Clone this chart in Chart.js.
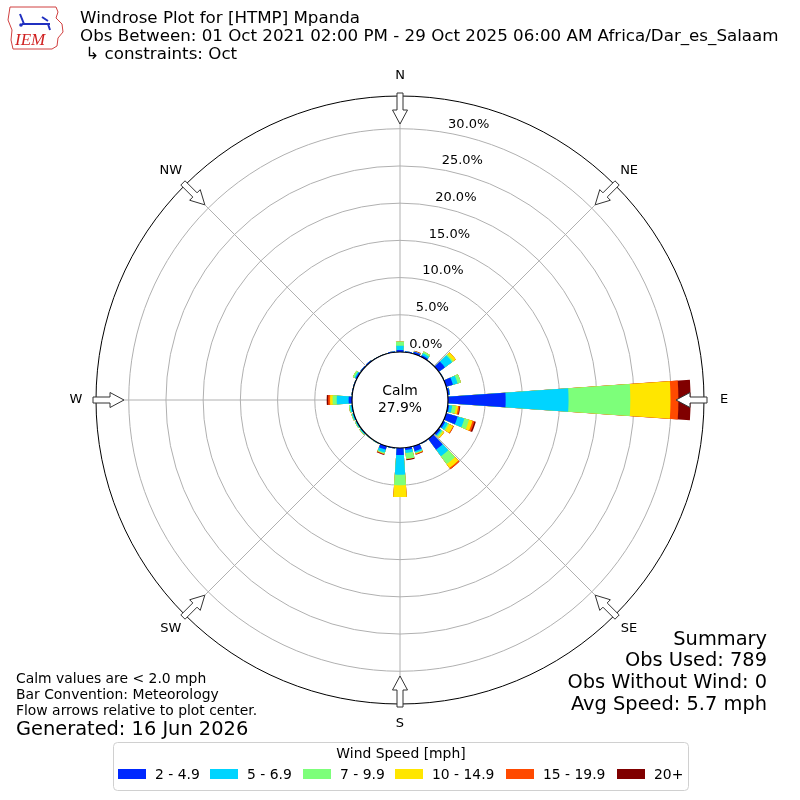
<!DOCTYPE html>
<html>
<head>
<meta charset="utf-8">
<script src="https://cdn.jsdelivr.net/npm/chart.js@4.4.0/dist/chart.umd.min.js"></script>
<style>
  body{margin:0;background:#fff;}
  canvas{display:block;}
</style>
</head>
<body>
<canvas id="rose" width="800" height="800"></canvas>
<script>
// direction bins (deg, meteorological) and % frequency per speed class
var directions = [0,10,20,30,40,50,60,70,80,90,100,110,120,130,140,150,160,170,
                  180,190,200,210,220,230,240,250,260,270,280,290,300,310,320,330,340,350];
var speedLabels = ['2 - 4.9','5 - 6.9','7 - 9.9','10 - 14.9','15 - 19.9','20+'];
var speed1 = [0.27,0.15,0.3,0.25,0.05,1.0,0.1,0.95,0.25,7.75,0.2,1.6,0.3,0.3,1.8,0.1,0.7,0.3,
              0.95,0.1,0.5,0.05,0.05,0.1,0.1,0.1,0.1,0.45,0.1,0.1,0.2,0.15,0.15,0.05,0.05,0.15];
var speed2 = [0.58,0,0.02,0.3,0,1.2,0,0.65,0.05,8.45,0.4,0.95,0.4,0.2,1.1,0,0.2,0.4,
              2.65,0,0.4,0.05,0.05,0.1,0.1,0.15,0.2,1.6,0,0,0.15,0,0,0,0,0];
var speed3 = [0.55,0,0.02,0.25,0,0.2,0,0.46,0,8.3,0.5,0.65,0.2,0.2,1.3,0,0.1,0.8,
              1.4,0,0.15,0,0,0.1,0.1,0.1,0.15,0.55,0,0,0.25,0,0,0,0,0];
var speed4 = [0,0,0.02,0,0,0.4,0,0,0,5.4,0.3,0.5,0.6,0.2,0.65,0,0.05,0,
              1.6,0,0,0,0,0,0,0,0,0.35,0,0,0,0,0,0,0,0];
var speed5 = [0,0,0.04,0,0,0,0,0,0,1.06,0.2,0.25,0.1,0,0.2,0,0.1,0.05,
              0,0,0.1,0,0,0,0,0,0,0.25,0,0,0,0,0,0,0,0];
var speed6 = [0,0,0.05,0,0,0,0,0,0,1.64,0.1,0.2,0,0,0,0,0.05,0.15,
              0,0,0.1,0,0,0,0,0,0,0.2,0,0,0,0,0,0,0,0];
var rTicks = [0,5,10,15,20,25,30];
var compass = ['N','NE','E','SE','S','SW','W','NW'];
var calmPct = 27.9;

var speedColors = ['#0028ff','#00d4ff','#7dff7a','#ffe600','#ff4a00','#800000'];
var FONT = '"DejaVu Sans", sans-serif';

// build stacked (cumulative) datasets, one gap slot after each bar
var bins = [speed1, speed2, speed3, speed4, speed5, speed6];
var labels = [];
for (var i = 0; i < directions.length; i++){
  labels.push(directions[i] + '°');
  labels.push('');
}
var datasets = [];
var running = directions.map(function(){ return 0; });
for (var k = 0; k < bins.length; k++){
  var d = [];
  for (var i = 0; i < directions.length; i++){
    running[i] += bins[k][i];
    d.push(+running[i].toFixed(3));
    d.push(0);
  }
  datasets.push({
    label: speedLabels[k],
    data: d,
    backgroundColor: speedColors[k],
    borderWidth: 0,
    angle: function(c){ return c.dataIndex % 2 ? 2 : 8; }
  });
}

function arrow(ctx, cx, cy, deg, rOut){
  var a = deg * Math.PI / 180;
  var ux = Math.sin(a), uy = -Math.cos(a);
  var nx = Math.cos(a), ny = Math.sin(a);
  var pts = [[0,-3],[17,-3],[17,-7.5],[31,0],[17,7.5],[17,3],[0,3]];
  ctx.beginPath();
  pts.forEach(function(p, j){
    var r = rOut - p[0];
    var x = cx + ux*r + nx*p[1], y = cy + uy*r + ny*p[1];
    if (j == 0) ctx.moveTo(x, y); else ctx.lineTo(x, y);
  });
  ctx.closePath();
  ctx.fillStyle = '#fff';
  ctx.fill();
  ctx.strokeStyle = '#333';
  ctx.lineWidth = 1;
  ctx.stroke();
}

function drawLogo(ctx){
  ctx.save();
  ctx.strokeStyle = '#d04040';
  ctx.lineWidth = 1;
  ctx.beginPath();
  ctx.moveTo(10,7); ctx.lineTo(56,7); ctx.lineTo(58,12); ctx.lineTo(56,18);
  ctx.lineTo(62,24); ctx.lineTo(63,32); ctx.lineTo(58,38); ctx.lineTo(57,46);
  ctx.lineTo(52,49); ctx.lineTo(13,49); ctx.lineTo(11,40); ctx.lineTo(12,30);
  ctx.lineTo(8,20); ctx.closePath();
  ctx.stroke();
  ctx.strokeStyle = '#2030c0';
  ctx.lineWidth = 2;
  ctx.beginPath();
  ctx.moveTo(22,24); ctx.lineTo(50,24);
  ctx.moveTo(20,14); ctx.lineTo(24,24);
  ctx.moveTo(42,17); ctx.lineTo(48,21);
  ctx.moveTo(48,24); ctx.lineTo(50,30);
  ctx.stroke();
  ctx.fillStyle = '#2030c0';
  ctx.beginPath(); ctx.arc(21,25,1.8,0,2*Math.PI); ctx.fill();
  ctx.fillStyle = '#d02020';
  ctx.font = 'italic 17px "Liberation Serif", serif';
  ctx.textAlign = 'left';
  ctx.textBaseline = 'alphabetic';
  ctx.fillText('IEM', 15, 45);
  ctx.restore();
}

var rosePlugin = {
  id: 'rose',
  beforeDatasetsDraw: function(chart){
    var s = chart.scales.r, ctx = chart.ctx;
    ctx.save();
    ctx.strokeStyle = '#b0b0b0';
    ctx.lineWidth = 1;
    for (var i = 0; i < 8; i++){
      var a = i * 45 * Math.PI / 180;
      ctx.beginPath();
      ctx.moveTo(s.xCenter, s.yCenter);
      ctx.lineTo(s.xCenter + s.drawingArea*Math.sin(a), s.yCenter - s.drawingArea*Math.cos(a));
      ctx.stroke();
    }
    ctx.restore();
  },
  afterDatasetsDraw: function(chart){
    var s = chart.scales.r, ctx = chart.ctx;
    var cx = s.xCenter, cy = s.yCenter, R = s.drawingArea;
    var r0 = s.getDistanceFromCenterForValue(0);
    ctx.save();

    // calm circle
    ctx.beginPath();
    ctx.arc(cx, cy, r0, 0, 2*Math.PI);
    ctx.fillStyle = '#fff';
    ctx.fill();
    ctx.strokeStyle = '#000';
    ctx.lineWidth = 1.2;
    ctx.stroke();
    ctx.fillStyle = '#000';
    ctx.font = '13.9px ' + FONT;
    ctx.textAlign = 'center';
    ctx.textBaseline = 'middle';
    ctx.fillText('Calm', cx, cy - 9);
    ctx.fillText(calmPct.toFixed(1) + '%', cx, cy + 8);

    // outer frame
    ctx.beginPath();
    ctx.arc(cx, cy, R, 0, 2*Math.PI);
    ctx.strokeStyle = '#000';
    ctx.lineWidth = 1;
    ctx.stroke();

    // radial tick labels
    var t = 10 * Math.PI / 180;
    ctx.textAlign = 'left';
    ctx.font = '13px ' + FONT;
    rTicks.forEach(function(v){
      var r = s.getDistanceFromCenterForValue(v);
      ctx.fillStyle = '#000';
      ctx.fillText(v.toFixed(1) + '%', cx + r*Math.sin(t) + 1, cy - r*Math.cos(t) - 8.5);
    });

    // compass arrows + labels
    ctx.textAlign = 'center';
    compass.forEach(function(lab, i){
      var deg = i * 45;
      arrow(ctx, cx, cy, deg, R + 3);
      var a = deg * Math.PI / 180;
      ctx.fillStyle = '#000';
      ctx.font = '13px ' + FONT;
      ctx.fillText(lab, cx + 324*Math.sin(a), cy - 324*Math.cos(a));
    });
    ctx.restore();
  },
  afterDraw: function(chart){
    var ctx = chart.ctx;
    ctx.save();
    ctx.fillStyle = '#000';
    ctx.textBaseline = 'middle';
    ctx.textAlign = 'left';
    ctx.font = '16.7px ' + FONT;
    ctx.fillText('Windrose Plot for [HTMP] Mpanda', 80, 19);
    ctx.fillText('Obs Between: 01 Oct 2021 02:00 PM - 29 Oct 2025 06:00 AM Africa/Dar_es_Salaam', 80, 37);
    ctx.fillText(' \u21b3 constraints: Oct', 80, 55);

    ctx.font = '13.9px ' + FONT;
    ctx.fillText('Calm values are < 2.0 mph', 16, 679);
    ctx.fillText('Bar Convention: Meteorology', 16, 695);
    ctx.fillText('Flow arrows relative to plot center.', 16, 711);
    ctx.font = '19.4px ' + FONT;
    ctx.fillText('Generated: 16 Jun 2026', 16, 730);

    ctx.textAlign = 'right';
    ctx.font = '19.4px ' + FONT;
    ctx.fillText('Summary', 767, 640);
    ctx.fillText('Obs Used: 789', 767, 661);
    ctx.fillText('Obs Without Wind: 0', 767, 683);
    ctx.fillText('Avg Speed: 5.7 mph', 767, 705);

    // legend box
    ctx.beginPath();
    ctx.roundRect(113.5, 742.5, 575, 48, 4);
    ctx.fillStyle = 'rgba(255,255,255,0.8)';
    ctx.fill();
    ctx.strokeStyle = '#d0d0d0';
    ctx.lineWidth = 1;
    ctx.stroke();
    ctx.fillStyle = '#000';
    ctx.textAlign = 'center';
    ctx.font = '13.9px ' + FONT;
    ctx.fillText('Wind Speed [mph]', 401, 754);
    var patchX = [118, 210, 303, 395, 506, 617];
    ctx.textAlign = 'left';
    speedLabels.forEach(function(lab, k){
      ctx.fillStyle = speedColors[k];
      ctx.fillRect(patchX[k], 769, 28, 10);
      ctx.fillStyle = '#000';
      ctx.fillText(lab, patchX[k] + 37, 775);
    });

    drawLogo(ctx);
    ctx.restore();
  }
};

var ctx = document.getElementById('rose').getContext('2d');
var rose = new Chart(ctx, {
  type: 'polarArea',
  data: { labels: labels, datasets: datasets },
  options: {
    responsive: false,
    animation: false,
    events: [],
    layout: { padding: 96 },
    plugins: { legend: { display: false }, tooltip: { enabled: false }, title: { display: false } },
    scales: {
      r: {
        min: -6.45,
        max: 34.4,
        startAngle: -4,
        ticks: { display: false },
        grid: { color: '#b0b0b0', lineWidth: 1, circular: true },
        angleLines: { display: false },
        pointLabels: { display: false },
        afterBuildTicks: function(sc){
          sc.ticks = rTicks.map(function(v){ return { value: v }; });
        }
      }
    }
  },
  plugins: [rosePlugin]
});
</script>
</body>
</html>
